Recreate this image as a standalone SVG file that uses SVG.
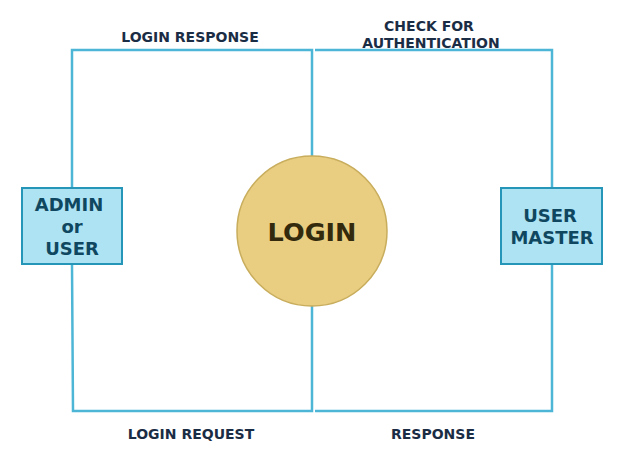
<svg xmlns="http://www.w3.org/2000/svg" width="622" height="460" viewBox="0 0 622 460">
<style>
.wire{fill:none;stroke:#4db6d6;stroke-width:2.5}
.box{fill:#aee3f3;stroke:#2596b8;stroke-width:2}
.lbl{font-family:"DejaVu Sans",Verdana,sans-serif;font-weight:bold;font-size:14px;fill:#1b2d45;text-anchor:middle}
.bt{font-family:"DejaVu Sans",Verdana,sans-serif;font-weight:bold;font-size:18px;fill:#0f4760;text-anchor:middle}
</style>
<rect width="622" height="460" fill="#ffffff"/>
<g id="connectors">
<polyline class="wire" points="72,188 72,50 312,50 312,156"/>
<polyline class="wire" points="315,50 552,50 552,188"/>
<polyline class="wire" points="72,264 73,411 312,411 312,306"/>
<polyline class="wire" points="315,411 552,411 552,264"/>
</g>
<g id="admin">
<rect class="box" x="22" y="188" width="100" height="76"/>
<text class="bt" x="69" y="211">ADMIN</text>
<text class="bt" x="72" y="233">or</text>
<text class="bt" x="72" y="255">USER</text>
</g>
<g id="usermaster">
<rect class="box" x="501" y="188" width="101" height="76"/>
<text class="bt" x="550" y="222">USER</text>
<text class="bt" x="552" y="244">MASTER</text>
</g>
<g id="login">
<circle cx="312" cy="231" r="75" fill="#e9cd80" stroke="#c8ad5c" stroke-width="1.5"/>
<text x="312" y="241" font-family="'DejaVu Sans',Verdana,sans-serif" font-weight="bold" font-size="25.5" fill="#33290c" text-anchor="middle">LOGIN</text>
</g>
<g id="labels">
<text class="lbl" x="190" y="42">LOGIN RESPONSE</text>
<text class="lbl" x="429" y="31">CHECK FOR</text>
<text class="lbl" x="431" y="48">AUTHENTICATION</text>
<text class="lbl" x="191" y="439">LOGIN REQUEST</text>
<text class="lbl" x="433" y="439">RESPONSE</text>
</g>
</svg>
